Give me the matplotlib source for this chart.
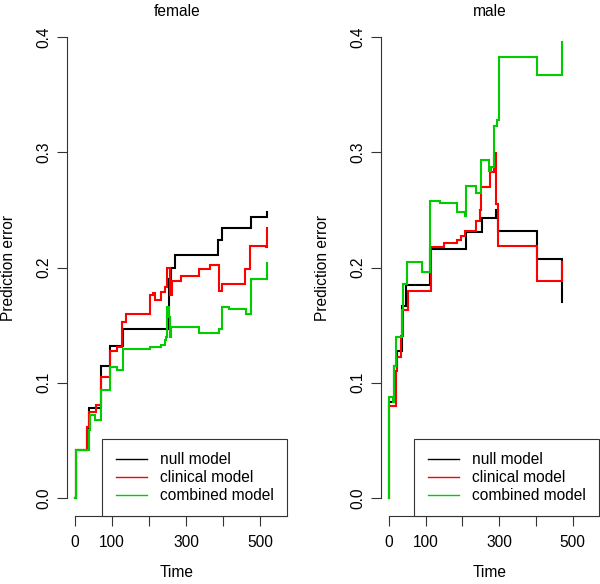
import matplotlib

matplotlib.use("Agg")
import matplotlib.pyplot as plt
from matplotlib.lines import Line2D

plt.rcParams["font.family"] = ["Liberation Sans", "DejaVu Sans"]

# female panel
null_f_t = [0, 1, 33, 38, 70, 94, 130, 253, 258, 269, 386, 397, 475, 519]
null_f_v = [0.0, 0.042, 0.060, 0.078, 0.115, 0.132, 0.147, 0.190, 0.200, 0.211,
            0.224, 0.234, 0.244, 0.248]
clin_f_t = [0, 1, 33, 38, 56, 71, 94, 114, 126, 138, 201, 210, 215, 233, 242,
            248, 255, 262, 287, 334, 364, 389, 396, 459, 473, 514, 518]
clin_f_v = [0.0, 0.042, 0.062, 0.075, 0.081, 0.105, 0.128, 0.131, 0.153, 0.160,
            0.176, 0.178, 0.172, 0.179, 0.183, 0.200, 0.176, 0.188, 0.193, 0.199,
            0.202, 0.180, 0.186, 0.199, 0.219, 0.218, 0.234]
comb_f_t = [0, 1, 36, 40, 54, 70, 94, 114, 128, 201, 233, 242, 245, 248, 253,
            257, 260, 334, 389, 397, 416, 461, 474, 518]
comb_f_v = [0.0, 0.042, 0.059, 0.072, 0.068, 0.094, 0.114, 0.111, 0.129, 0.131,
            0.133, 0.137, 0.140, 0.166, 0.157, 0.140, 0.148, 0.143, 0.147, 0.166,
            0.164, 0.160, 0.190, 0.204]

# male panel
null_m_t = [0, 1, 13, 22, 36, 46, 111, 210, 253, 291, 298, 403, 471]
null_m_v = [0.0, 0.083, 0.115, 0.128, 0.167, 0.185, 0.2165, 0.231, 0.243, 0.250,
            0.232, 0.207, 0.170]
clin_m_t = [0, 1, 19, 22, 32, 37, 52, 113, 151, 185, 196, 208, 237, 248, 250,
            275, 286, 291, 298, 403, 471]
clin_m_v = [0.0, 0.080, 0.110, 0.122, 0.141, 0.163, 0.180, 0.218, 0.221, 0.224,
            0.227, 0.232, 0.240, 0.250, 0.270, 0.283, 0.299, 0.255, 0.219, 0.188,
            0.205]
comb_m_t = [0, 1, 10, 13, 19, 34, 37, 49, 91, 111, 140, 185, 208, 210, 237, 251,
            273, 279, 286, 293, 300, 402, 471]
comb_m_v = [0.0, 0.088, 0.083, 0.115, 0.140, 0.163, 0.186, 0.205, 0.196, 0.258,
            0.256, 0.248, 0.245, 0.271, 0.265, 0.293, 0.284, 0.287, 0.323, 0.328,
            0.383, 0.367, 0.396]

MODEL_LABELS = ["null model", "clinical model", "combined model"]
MODEL_COLORS = ["black", "#FF0000", "#00CD00"]
X_TICKS = [0, 100, 200, 300, 400, 500]
X_TICK_LABELS = ["0", "100", "", "300", "", "500"]
Y_TICKS = [0.0, 0.1, 0.2, 0.3, 0.4]
Y_TICK_LABELS = ["0.0", "0.1", "0.2", "0.3", "0.4"]

FONT_SIZE = 11.2
AXIS_COLOR = "#333333"

PANELS = [
    ("female", [0.1117, 0.1156, 0.3667, 0.8526],
     [(null_f_t, null_f_v), (clin_f_t, clin_f_v), (comb_f_t, comb_f_v)]),
    ("male", [0.635, 0.1156, 0.3633, 0.8526],
     [(null_m_t, null_m_v), (clin_m_t, clin_m_v), (comb_m_t, comb_m_v)]),
]

figure = plt.figure(figsize=(6.0, 5.84), dpi=100)
for title, rect, series in PANELS:
    axis = figure.add_axes(rect)
    for (times, values), color in zip(series, MODEL_COLORS):
        axis.plot(times, values, drawstyle="steps-post", color=color,
                  linewidth=1.5, solid_joinstyle="miter")
    axis.set_xlim(-22, 572)
    axis.set_ylim(-0.016, 0.416)
    for side in ("top", "right"):
        axis.spines[side].set_visible(False)
    axis.spines["left"].set_bounds(0.0, 0.4)
    axis.spines["bottom"].set_bounds(0, 572)
    for side in ("left", "bottom"):
        axis.spines[side].set_color(AXIS_COLOR)
        axis.spines[side].set_linewidth(0.8)
    axis.set_xticks(X_TICKS, X_TICK_LABELS)
    axis.set_yticks(Y_TICKS, Y_TICK_LABELS)
    axis.tick_params(axis="both", direction="out", length=7, width=0.8,
                     color=AXIS_COLOR, labelsize=FONT_SIZE)
    axis.tick_params(axis="x", pad=6)
    axis.tick_params(axis="y", pad=4)
    for label in axis.get_yticklabels():
        label.set_rotation(90)
        label.set_va("center")
    axis.set_title(title, fontsize=FONT_SIZE, pad=1)
    axis.set_xlabel("Time", fontsize=FONT_SIZE)
    axis.set_ylabel("Prediction error", fontsize=FONT_SIZE)
    axis.xaxis.set_label_coords(0.5, -0.097)
    axis.yaxis.set_label_coords(-0.232, 0.5)

    handles = [Line2D([], [], color=color, linewidth=1.0) for color in MODEL_COLORS]
    legend = axis.legend(handles, MODEL_LABELS, loc="lower right",
                         bbox_to_anchor=(1.0, 0.0), borderaxespad=0,
                         fancybox=False, framealpha=1, edgecolor=AXIS_COLOR,
                         fontsize=FONT_SIZE, handlelength=2.0, handletextpad=0.85,
                         borderpad=0.85, labelspacing=0.2)
    legend.get_frame().set_linewidth(0.8)

figure.savefig("out.png", dpi=100)
plt.close(figure)
